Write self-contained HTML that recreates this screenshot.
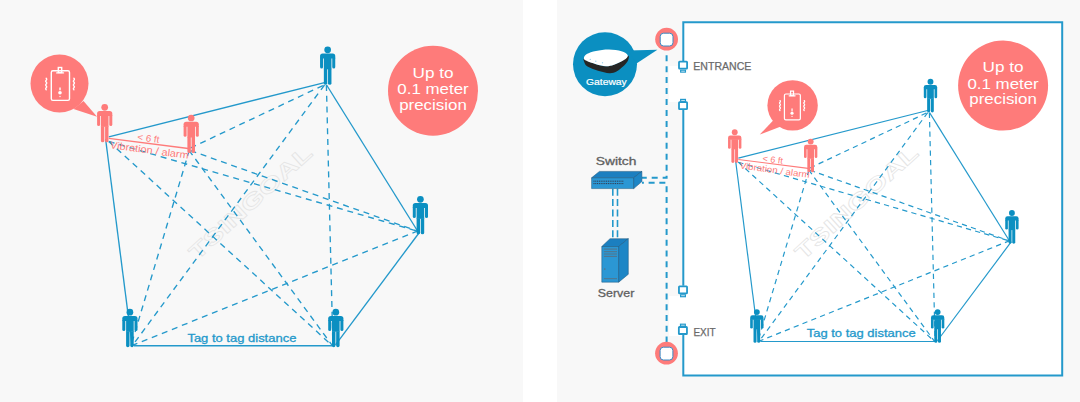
<!DOCTYPE html>
<html><head><meta charset="utf-8"><style>
html,body{margin:0;padding:0;background:#fff;width:1080px;height:402px;overflow:hidden}
svg{display:block}
</style></head><body>
<svg width="1080" height="402" viewBox="0 0 1080 402">
<rect x="0" y="0" width="523" height="402" fill="#f8f8f8"/>
<rect x="557" y="0" width="523" height="402" fill="#f8f8f8"/>
<text x="197" y="261" transform="rotate(-42.3 197 261)" font-family="Liberation Sans, sans-serif" font-size="21" font-weight="bold" fill="none" stroke="#e4e4e4" stroke-width="0.7" textLength="158" lengthAdjust="spacingAndGlyphs">TSINGOAL</text>
<line x1="108.8" y1="141.5" x2="418" y2="231.3" stroke="#2499cb" stroke-width="1.35" stroke-dasharray="6 4.8"/>
<line x1="108.8" y1="141.4" x2="332.3" y2="345.7" stroke="#2499cb" stroke-width="1.35" stroke-dasharray="6 4.8"/>
<line x1="190.5" y1="148" x2="325.7" y2="84.2" stroke="#2499cb" stroke-width="1.35" stroke-dasharray="6 4.8"/>
<line x1="190.5" y1="150.6" x2="418" y2="231.3" stroke="#2499cb" stroke-width="1.35" stroke-dasharray="6 4.8"/>
<line x1="189.3" y1="150.3" x2="131" y2="345.7" stroke="#2499cb" stroke-width="1.35" stroke-dasharray="6 4.8"/>
<line x1="189" y1="150.3" x2="332.4" y2="345.7" stroke="#2499cb" stroke-width="1.35" stroke-dasharray="6 4.8"/>
<line x1="324.5" y1="85" x2="132.3" y2="345.7" stroke="#2499cb" stroke-width="1.35" stroke-dasharray="6 4.8"/>
<line x1="326.4" y1="85" x2="332.9" y2="345.7" stroke="#2499cb" stroke-width="1.35" stroke-dasharray="6 4.8"/>
<line x1="418" y1="230.8" x2="132" y2="345.5" stroke="#2499cb" stroke-width="1.35" stroke-dasharray="6 4.8"/>
<line x1="108.8" y1="136.9" x2="325.5" y2="82.3" stroke="#2499cb" stroke-width="1.35"/>
<line x1="326.6" y1="85" x2="418.2" y2="232" stroke="#2499cb" stroke-width="1.35"/>
<line x1="419.7" y1="232" x2="335.5" y2="344.8" stroke="#2499cb" stroke-width="1.35"/>
<line x1="134" y1="345.7" x2="333" y2="345.7" stroke="#2499cb" stroke-width="1.35"/>
<line x1="105.6" y1="139" x2="132.1" y2="345.7" stroke="#2499cb" stroke-width="1.35"/>
<line x1="108.8" y1="138.4" x2="188.3" y2="148.5" stroke="#fe7b7a" stroke-width="1.35"/>
<g fill="#fe7b7a"><circle cx="104.70" cy="107.30" r="3.35"/><path d="M97.10,113.60 Q97.10,111.00 99.70,111.00 L109.70,111.00 Q112.30,111.00 112.30,113.60 L112.30,116.00 L97.10,116.00 Z"/><path d="M97.10,115.30 L100.10,115.30 L100.10,124.60 Q100.10,126.10 98.60,126.10 Q97.10,126.10 97.10,124.60 Z"/><path d="M109.30,115.30 L112.30,115.30 L112.30,124.60 Q112.30,126.10 110.80,126.10 Q109.30,126.10 109.30,124.60 Z"/><rect x="100.90" y="115.30" width="7.60" height="11.50"/><path d="M100.90,126.30 L104.32,126.30 L104.32,140.70 Q104.32,142.30 102.61,142.30 Q100.90,142.30 100.90,140.70 Z"/><path d="M105.08,126.30 L108.50,126.30 L108.50,140.70 Q108.50,142.30 106.79,142.30 Q105.08,142.30 105.08,140.70 Z"/></g>
<g fill="#fe7b7a"><circle cx="191.20" cy="118.00" r="3.35"/><path d="M183.60,124.30 Q183.60,121.70 186.20,121.70 L196.20,121.70 Q198.80,121.70 198.80,124.30 L198.80,126.70 L183.60,126.70 Z"/><path d="M183.60,126.00 L186.60,126.00 L186.60,135.30 Q186.60,136.80 185.10,136.80 Q183.60,136.80 183.60,135.30 Z"/><path d="M195.80,126.00 L198.80,126.00 L198.80,135.30 Q198.80,136.80 197.30,136.80 Q195.80,136.80 195.80,135.30 Z"/><rect x="187.40" y="126.00" width="7.60" height="11.50"/><path d="M187.40,137.00 L190.82,137.00 L190.82,151.40 Q190.82,153.00 189.11,153.00 Q187.40,153.00 187.40,151.40 Z"/><path d="M191.58,137.00 L195.00,137.00 L195.00,151.40 Q195.00,153.00 193.29,153.00 Q191.58,153.00 191.58,151.40 Z"/></g>
<g fill="#0b8fc1"><circle cx="327.65" cy="49.80" r="3.35"/><path d="M320.05,56.10 Q320.05,53.50 322.65,53.50 L332.65,53.50 Q335.25,53.50 335.25,56.10 L335.25,58.50 L320.05,58.50 Z"/><path d="M320.05,57.80 L323.05,57.80 L323.05,67.10 Q323.05,68.60 321.55,68.60 Q320.05,68.60 320.05,67.10 Z"/><path d="M332.25,57.80 L335.25,57.80 L335.25,67.10 Q335.25,68.60 333.75,68.60 Q332.25,68.60 332.25,67.10 Z"/><rect x="323.85" y="57.80" width="7.60" height="11.50"/><path d="M323.85,68.80 L327.27,68.80 L327.27,83.20 Q327.27,84.80 325.56,84.80 Q323.85,84.80 323.85,83.20 Z"/><path d="M328.03,68.80 L331.45,68.80 L331.45,83.20 Q331.45,84.80 329.74,84.80 Q328.03,84.80 328.03,83.20 Z"/></g>
<g fill="#0b8fc1"><circle cx="420.40" cy="199.30" r="3.35"/><path d="M412.80,205.60 Q412.80,203.00 415.40,203.00 L425.40,203.00 Q428.00,203.00 428.00,205.60 L428.00,208.00 L412.80,208.00 Z"/><path d="M412.80,207.30 L415.80,207.30 L415.80,216.60 Q415.80,218.10 414.30,218.10 Q412.80,218.10 412.80,216.60 Z"/><path d="M425.00,207.30 L428.00,207.30 L428.00,216.60 Q428.00,218.10 426.50,218.10 Q425.00,218.10 425.00,216.60 Z"/><rect x="416.60" y="207.30" width="7.60" height="11.50"/><path d="M416.60,218.30 L420.02,218.30 L420.02,232.70 Q420.02,234.30 418.31,234.30 Q416.60,234.30 416.60,232.70 Z"/><path d="M420.78,218.30 L424.20,218.30 L424.20,232.70 Q424.20,234.30 422.49,234.30 Q420.78,234.30 420.78,232.70 Z"/></g>
<g fill="#0b8fc1"><circle cx="129.90" cy="312.20" r="3.35"/><path d="M122.30,318.50 Q122.30,315.90 124.90,315.90 L134.90,315.90 Q137.50,315.90 137.50,318.50 L137.50,320.90 L122.30,320.90 Z"/><path d="M122.30,320.20 L125.30,320.20 L125.30,329.50 Q125.30,331.00 123.80,331.00 Q122.30,331.00 122.30,329.50 Z"/><path d="M134.50,320.20 L137.50,320.20 L137.50,329.50 Q137.50,331.00 136.00,331.00 Q134.50,331.00 134.50,329.50 Z"/><rect x="126.10" y="320.20" width="7.60" height="11.50"/><path d="M126.10,331.20 L129.52,331.20 L129.52,345.60 Q129.52,347.20 127.81,347.20 Q126.10,347.20 126.10,345.60 Z"/><path d="M130.28,331.20 L133.70,331.20 L133.70,345.60 Q133.70,347.20 131.99,347.20 Q130.28,347.20 130.28,345.60 Z"/></g>
<g fill="#0b8fc1"><circle cx="335.80" cy="312.20" r="3.35"/><path d="M328.20,318.50 Q328.20,315.90 330.80,315.90 L340.80,315.90 Q343.40,315.90 343.40,318.50 L343.40,320.90 L328.20,320.90 Z"/><path d="M328.20,320.20 L331.20,320.20 L331.20,329.50 Q331.20,331.00 329.70,331.00 Q328.20,331.00 328.20,329.50 Z"/><path d="M340.40,320.20 L343.40,320.20 L343.40,329.50 Q343.40,331.00 341.90,331.00 Q340.40,331.00 340.40,329.50 Z"/><rect x="332.00" y="320.20" width="7.60" height="11.50"/><path d="M332.00,331.20 L335.42,331.20 L335.42,345.60 Q335.42,347.20 333.71,347.20 Q332.00,347.20 332.00,345.60 Z"/><path d="M336.18,331.20 L339.60,331.20 L339.60,345.60 Q339.60,347.20 337.89,347.20 Q336.18,347.20 336.18,345.60 Z"/></g>
<text x="148" y="141.5" transform="rotate(7.7 148 141.5)" font-family="Liberation Sans, sans-serif" font-size="9.5" fill="#fe7b7a" text-anchor="middle" textLength="22" lengthAdjust="spacingAndGlyphs">&lt; 6 ft</text>
<text x="149" y="153.5" transform="rotate(7.7 149 153.5)" font-family="Liberation Sans, sans-serif" font-size="10" fill="#fe7b7a" text-anchor="middle" textLength="79" lengthAdjust="spacingAndGlyphs">Vibration / alarm</text>
<circle cx="59.5" cy="83.5" r="29" fill="#fe7b7a"/>
<path d="M83.50,101.00 L73.50,109.00 L97.10,116.70 Z" fill="#fe7b7a"/>
<g fill="none" stroke="#fff" stroke-width="1.40" stroke-linecap="round"><rect x="51.30" y="70.80" width="18.20" height="29.60" rx="1.60"/><rect x="58.30" y="67.50" width="3.40" height="5.00"/><line x1="56.70" y1="72.90" x2="63.50" y2="72.90"/><line x1="60.00" y1="87.90" x2="60.00" y2="89.80"/><line x1="60.00" y1="96.40" x2="60.00" y2="96.50"/><path d="M46.20,78.30 Q47.20,79.25 46.20,80.20 Q45.20,81.15 46.20,82.10 Q47.20,83.05 46.20,84.00 Q45.20,84.95 46.20,85.90 Q47.20,86.85 46.20,87.80 Q45.20,88.75 46.20,89.70"/><path d="M73.90,78.30 Q74.90,79.25 73.90,80.20 Q72.90,81.15 73.90,82.10 Q74.90,83.05 73.90,84.00 Q72.90,84.95 73.90,85.90 Q74.90,86.85 73.90,87.80 Q72.90,88.75 73.90,89.70"/></g>
<circle cx="60.00" cy="92.70" r="1.80" fill="#fff"/>
<circle cx="433" cy="90.8" r="45" fill="#fe7b7a"/><g fill="#fff" font-family="Liberation Sans, sans-serif" font-size="14.5" text-anchor="middle"><text x="433" y="77.5" textLength="41" lengthAdjust="spacingAndGlyphs">Up to</text><text x="433" y="93.7" textLength="71.3" lengthAdjust="spacingAndGlyphs">0.1 meter</text><text x="433" y="109.6" textLength="67.6" lengthAdjust="spacingAndGlyphs">precision</text></g>
<text x="187.4" y="341.7" font-family="Liberation Sans, sans-serif" font-size="11" fill="#2499cb" stroke="#2499cb" stroke-width="0.3" textLength="109" lengthAdjust="spacingAndGlyphs">Tag to tag distance</text>
<rect x="683.3" y="22.2" width="379" height="353.4" fill="#fff"/>
<rect x="669" y="66" width="15" height="36" fill="#fff"/><rect x="669" y="296" width="15" height="40" fill="#fff"/><path d="M683.3,61.3 L683.3,22.2 L1062.2,22.2 L1062.2,375.6 L683.3,375.6 L683.3,334.9" fill="none" stroke="#2499cb" stroke-width="2.0"/><line x1="683.3" y1="109.6" x2="683.3" y2="285.7" stroke="#2499cb" stroke-width="2.0"/><rect x="679.00" y="61.70" width="8.1" height="7.0" rx="0.6" fill="#fff" stroke="#2499cb" stroke-width="1.8"/><rect x="680.65" y="70.20" width="4.8" height="1.9" fill="#fff" stroke="#2499cb" stroke-width="1.2"/><rect x="680.65" y="99.40" width="4.8" height="1.9" fill="#fff" stroke="#2499cb" stroke-width="1.2"/><rect x="679.00" y="102.20" width="8.1" height="7.0" rx="0.6" fill="#fff" stroke="#2499cb" stroke-width="1.8"/><rect x="678.95" y="286.30" width="8.1" height="7.0" rx="0.6" fill="#fff" stroke="#2499cb" stroke-width="1.8"/><rect x="680.60" y="294.80" width="4.8" height="1.9" fill="#fff" stroke="#2499cb" stroke-width="1.2"/><rect x="680.50" y="324.20" width="4.8" height="1.9" fill="#fff" stroke="#2499cb" stroke-width="1.2"/><rect x="678.85" y="327.00" width="8.1" height="7.0" rx="0.6" fill="#fff" stroke="#2499cb" stroke-width="1.8"/><text x="693.3" y="70.1" font-family="Liberation Sans, sans-serif" font-size="10.5" fill="#6a6a6a" stroke="#6a6a6a" stroke-width="0.25" textLength="58" lengthAdjust="spacingAndGlyphs">ENTRANCE</text><text x="693.4" y="335.5" font-family="Liberation Sans, sans-serif" font-size="10.5" fill="#6a6a6a" stroke="#6a6a6a" stroke-width="0.25" textLength="22.2" lengthAdjust="spacingAndGlyphs">EXIT</text><path d="M666.6,50.8 L666.6,177.7 L642,177.7" fill="none" stroke="#2499cb" stroke-width="2" stroke-dasharray="6 4.95" stroke-dashoffset="6.55"/><path d="M642,182.7 L666.6,182.7 L666.6,342" fill="none" stroke="#2499cb" stroke-width="2" stroke-dasharray="6 4.73" stroke-dashoffset="4.12"/><path d="M612.8,188.7 L612.8,240 M617.5,188.7 L617.5,240" fill="none" stroke="#2499cb" stroke-width="1.6" stroke-dasharray="7 3.4"/><circle cx="666.6" cy="39.2" r="11.4" fill="#fe7b7a"/><rect x="660.20" y="33.20" width="12.8" height="12.8" rx="3.4" fill="#fff" stroke="#3a8cc6" stroke-width="1.0"/><circle cx="666.5" cy="353.2" r="11.4" fill="#fe7b7a"/><rect x="660.10" y="347.20" width="12.8" height="12.8" rx="3.4" fill="#fff" stroke="#3a8cc6" stroke-width="1.0"/><circle cx="605" cy="64.2" r="32" fill="#0b8fc1"/><path d="M628,50.5 L657.4,49.8 L636.5,63.5 Z" fill="#0b8fc1"/><path d="M583.90,58.60 C582.97,58.68 583.80,61.18 584.40,62.50 C585.00,63.82 585.23,65.12 587.50,66.50 C589.77,67.88 594.33,69.68 598.00,70.80 C601.67,71.92 606.42,73.08 609.50,73.20 C612.58,73.32 614.25,72.62 616.50,71.50 C618.75,70.38 621.12,68.25 623.00,66.50 C624.88,64.75 626.93,62.78 627.80,61.00 C628.67,59.22 629.50,55.63 628.20,55.80 C626.90,55.97 623.70,60.25 620.00,62.00 C616.30,63.75 611.00,66.30 606.00,66.30 C601.00,66.30 593.68,63.28 590.00,62.00 C586.32,60.72 584.83,58.52 583.90,58.60Z" fill="#262626"/><path d="M583.90,58.00 C584.03,56.90 584.78,55.17 586.80,54.00 C588.82,52.83 592.30,51.73 596.00,51.00 C599.70,50.27 604.75,49.55 609.00,49.60 C613.25,49.65 618.37,50.33 621.50,51.30 C624.63,52.27 627.38,53.95 627.80,55.40 C628.22,56.85 626.30,58.43 624.00,60.00 C621.70,61.57 617.00,63.75 614.00,64.80 C611.00,65.85 609.00,66.38 606.00,66.30 C603.00,66.22 599.33,65.25 596.00,64.30 C592.67,63.35 588.02,61.65 586.00,60.60 C583.98,59.55 583.77,59.10 583.90,58.00Z" fill="#fff"/><circle cx="590.3" cy="59.4" r="0.7" fill="#9fd3ef"/><circle cx="595.8" cy="61.3" r="0.7" fill="#9fd3ef"/><circle cx="602.5" cy="62.8" r="0.7" fill="#9fd3ef"/><text x="586" y="85.2" font-family="Liberation Sans, sans-serif" font-size="9.5" fill="#fff" stroke="#fff" stroke-width="0.2" textLength="40.8" lengthAdjust="spacingAndGlyphs">Gateway</text><text x="595.7" y="165.4" font-family="Liberation Sans, sans-serif" font-size="11.5" fill="#606060" stroke="#606060" stroke-width="0.3" textLength="40.7" lengthAdjust="spacingAndGlyphs">Switch</text><path d="M591.6,177.8 L599.4,171.4 L641.9,171.4 L633.7,177.8 Z" fill="#1b7fc0" stroke="#16527a" stroke-width="0.5"/><path d="M591.6,177.8 L633.7,177.8 L633.7,188.6 L591.6,188.6 Z" fill="#2b97d4" stroke="#16527a" stroke-width="0.5"/><path d="M633.7,177.8 L641.9,171.4 L641.9,181.6 L633.7,188.6 Z" fill="#1d86c6" stroke="#16527a" stroke-width="0.5"/><path d="M593.5,181.2 L624,181.2 M593.5,183.6 L624,183.6" stroke="#334" stroke-width="1" stroke-dasharray="1 0.8"/><path d="M601.8,246.5 L610,238.7 L628.3,238.7 L618.7,246.5 Z" fill="#1b7fc0" stroke="#16527a" stroke-width="0.5"/><path d="M601.8,246.5 L618.7,246.5 L618.7,282.2 L601.8,282.2 Z" fill="#2b97d4" stroke="#16527a" stroke-width="0.5"/><path d="M618.7,246.5 L628.3,238.7 L628.3,274.3 L618.7,282.2 Z" fill="#1d86c6" stroke="#16527a" stroke-width="0.5"/><path d="M603.9,249.1 H617 M603.9,251.7 H617 M603.9,254 H617 M603.9,256.4 H617 M603.9,278.7 H617" stroke="#5a6f80" stroke-width="0.9"/><circle cx="604.8" cy="269.1" r="0.8" fill="#5a6f80"/><text x="597.8" y="296.6" font-family="Liberation Sans, sans-serif" font-size="11.5" fill="#606060" stroke="#606060" stroke-width="0.3" textLength="36.5" lengthAdjust="spacingAndGlyphs">Server</text>
<text x="803" y="261" transform="rotate(-42.3 803 261)" font-family="Liberation Sans, sans-serif" font-size="21" font-weight="bold" fill="none" stroke="#e4e4e4" stroke-width="0.7" textLength="158" lengthAdjust="spacingAndGlyphs">TSINGOAL</text>
<g transform="translate(642.8 38.0) scale(0.878)"><line x1="108.8" y1="141.5" x2="418" y2="231.3" stroke="#2499cb" stroke-width="1.35" stroke-dasharray="6 4.8"/>
<line x1="108.8" y1="141.4" x2="332.3" y2="345.7" stroke="#2499cb" stroke-width="1.35" stroke-dasharray="6 4.8"/>
<line x1="190.5" y1="148" x2="325.7" y2="84.2" stroke="#2499cb" stroke-width="1.35" stroke-dasharray="6 4.8"/>
<line x1="190.5" y1="150.6" x2="418" y2="231.3" stroke="#2499cb" stroke-width="1.35" stroke-dasharray="6 4.8"/>
<line x1="189.3" y1="150.3" x2="131" y2="345.7" stroke="#2499cb" stroke-width="1.35" stroke-dasharray="6 4.8"/>
<line x1="189" y1="150.3" x2="332.4" y2="345.7" stroke="#2499cb" stroke-width="1.35" stroke-dasharray="6 4.8"/>
<line x1="324.5" y1="85" x2="132.3" y2="345.7" stroke="#2499cb" stroke-width="1.35" stroke-dasharray="6 4.8"/>
<line x1="326.4" y1="85" x2="332.9" y2="345.7" stroke="#2499cb" stroke-width="1.35" stroke-dasharray="6 4.8"/>
<line x1="418" y1="230.8" x2="132" y2="345.5" stroke="#2499cb" stroke-width="1.35" stroke-dasharray="6 4.8"/>
<line x1="108.8" y1="136.9" x2="325.5" y2="82.3" stroke="#2499cb" stroke-width="1.35"/>
<line x1="326.6" y1="85" x2="418.2" y2="232" stroke="#2499cb" stroke-width="1.35"/>
<line x1="419.7" y1="232" x2="335.5" y2="344.8" stroke="#2499cb" stroke-width="1.35"/>
<line x1="134" y1="345.7" x2="333" y2="345.7" stroke="#2499cb" stroke-width="1.35"/>
<line x1="105.6" y1="139" x2="132.1" y2="345.7" stroke="#2499cb" stroke-width="1.35"/>
<line x1="108.8" y1="138.4" x2="188.3" y2="148.5" stroke="#fe7b7a" stroke-width="1.35"/>
<g fill="#fe7b7a"><circle cx="104.70" cy="107.30" r="3.35"/><path d="M97.10,113.60 Q97.10,111.00 99.70,111.00 L109.70,111.00 Q112.30,111.00 112.30,113.60 L112.30,116.00 L97.10,116.00 Z"/><path d="M97.10,115.30 L100.10,115.30 L100.10,124.60 Q100.10,126.10 98.60,126.10 Q97.10,126.10 97.10,124.60 Z"/><path d="M109.30,115.30 L112.30,115.30 L112.30,124.60 Q112.30,126.10 110.80,126.10 Q109.30,126.10 109.30,124.60 Z"/><rect x="100.90" y="115.30" width="7.60" height="11.50"/><path d="M100.90,126.30 L104.32,126.30 L104.32,140.70 Q104.32,142.30 102.61,142.30 Q100.90,142.30 100.90,140.70 Z"/><path d="M105.08,126.30 L108.50,126.30 L108.50,140.70 Q108.50,142.30 106.79,142.30 Q105.08,142.30 105.08,140.70 Z"/></g>
<g fill="#fe7b7a"><circle cx="191.20" cy="118.00" r="3.35"/><path d="M183.60,124.30 Q183.60,121.70 186.20,121.70 L196.20,121.70 Q198.80,121.70 198.80,124.30 L198.80,126.70 L183.60,126.70 Z"/><path d="M183.60,126.00 L186.60,126.00 L186.60,135.30 Q186.60,136.80 185.10,136.80 Q183.60,136.80 183.60,135.30 Z"/><path d="M195.80,126.00 L198.80,126.00 L198.80,135.30 Q198.80,136.80 197.30,136.80 Q195.80,136.80 195.80,135.30 Z"/><rect x="187.40" y="126.00" width="7.60" height="11.50"/><path d="M187.40,137.00 L190.82,137.00 L190.82,151.40 Q190.82,153.00 189.11,153.00 Q187.40,153.00 187.40,151.40 Z"/><path d="M191.58,137.00 L195.00,137.00 L195.00,151.40 Q195.00,153.00 193.29,153.00 Q191.58,153.00 191.58,151.40 Z"/></g>
<g fill="#0b8fc1"><circle cx="327.65" cy="49.80" r="3.35"/><path d="M320.05,56.10 Q320.05,53.50 322.65,53.50 L332.65,53.50 Q335.25,53.50 335.25,56.10 L335.25,58.50 L320.05,58.50 Z"/><path d="M320.05,57.80 L323.05,57.80 L323.05,67.10 Q323.05,68.60 321.55,68.60 Q320.05,68.60 320.05,67.10 Z"/><path d="M332.25,57.80 L335.25,57.80 L335.25,67.10 Q335.25,68.60 333.75,68.60 Q332.25,68.60 332.25,67.10 Z"/><rect x="323.85" y="57.80" width="7.60" height="11.50"/><path d="M323.85,68.80 L327.27,68.80 L327.27,83.20 Q327.27,84.80 325.56,84.80 Q323.85,84.80 323.85,83.20 Z"/><path d="M328.03,68.80 L331.45,68.80 L331.45,83.20 Q331.45,84.80 329.74,84.80 Q328.03,84.80 328.03,83.20 Z"/></g>
<g fill="#0b8fc1"><circle cx="420.40" cy="199.30" r="3.35"/><path d="M412.80,205.60 Q412.80,203.00 415.40,203.00 L425.40,203.00 Q428.00,203.00 428.00,205.60 L428.00,208.00 L412.80,208.00 Z"/><path d="M412.80,207.30 L415.80,207.30 L415.80,216.60 Q415.80,218.10 414.30,218.10 Q412.80,218.10 412.80,216.60 Z"/><path d="M425.00,207.30 L428.00,207.30 L428.00,216.60 Q428.00,218.10 426.50,218.10 Q425.00,218.10 425.00,216.60 Z"/><rect x="416.60" y="207.30" width="7.60" height="11.50"/><path d="M416.60,218.30 L420.02,218.30 L420.02,232.70 Q420.02,234.30 418.31,234.30 Q416.60,234.30 416.60,232.70 Z"/><path d="M420.78,218.30 L424.20,218.30 L424.20,232.70 Q424.20,234.30 422.49,234.30 Q420.78,234.30 420.78,232.70 Z"/></g>
<g fill="#0b8fc1"><circle cx="129.90" cy="312.20" r="3.35"/><path d="M122.30,318.50 Q122.30,315.90 124.90,315.90 L134.90,315.90 Q137.50,315.90 137.50,318.50 L137.50,320.90 L122.30,320.90 Z"/><path d="M122.30,320.20 L125.30,320.20 L125.30,329.50 Q125.30,331.00 123.80,331.00 Q122.30,331.00 122.30,329.50 Z"/><path d="M134.50,320.20 L137.50,320.20 L137.50,329.50 Q137.50,331.00 136.00,331.00 Q134.50,331.00 134.50,329.50 Z"/><rect x="126.10" y="320.20" width="7.60" height="11.50"/><path d="M126.10,331.20 L129.52,331.20 L129.52,345.60 Q129.52,347.20 127.81,347.20 Q126.10,347.20 126.10,345.60 Z"/><path d="M130.28,331.20 L133.70,331.20 L133.70,345.60 Q133.70,347.20 131.99,347.20 Q130.28,347.20 130.28,345.60 Z"/></g>
<g fill="#0b8fc1"><circle cx="335.80" cy="312.20" r="3.35"/><path d="M328.20,318.50 Q328.20,315.90 330.80,315.90 L340.80,315.90 Q343.40,315.90 343.40,318.50 L343.40,320.90 L328.20,320.90 Z"/><path d="M328.20,320.20 L331.20,320.20 L331.20,329.50 Q331.20,331.00 329.70,331.00 Q328.20,331.00 328.20,329.50 Z"/><path d="M340.40,320.20 L343.40,320.20 L343.40,329.50 Q343.40,331.00 341.90,331.00 Q340.40,331.00 340.40,329.50 Z"/><rect x="332.00" y="320.20" width="7.60" height="11.50"/><path d="M332.00,331.20 L335.42,331.20 L335.42,345.60 Q335.42,347.20 333.71,347.20 Q332.00,347.20 332.00,345.60 Z"/><path d="M336.18,331.20 L339.60,331.20 L339.60,345.60 Q339.60,347.20 337.89,347.20 Q336.18,347.20 336.18,345.60 Z"/></g></g>
<text x="772.3" y="162.6" transform="rotate(7.7 772.3 162.6)" font-family="Liberation Sans, sans-serif" font-size="8.8" fill="#fe7b7a" text-anchor="middle" textLength="20.4" lengthAdjust="spacingAndGlyphs">&lt; 6 ft</text>
<text x="774.4" y="173.2" transform="rotate(7.7 774.4 173.2)" font-family="Liberation Sans, sans-serif" font-size="9.1" fill="#fe7b7a" text-anchor="middle" textLength="70.5" lengthAdjust="spacingAndGlyphs">Vibration / alarm</text>
<circle cx="792.6" cy="105.4" r="25.2" fill="#fe7b7a"/>
<path d="M774.50,118.90 L781.50,126.20 L759.80,134.60 Z" fill="#fe7b7a"/>
<g fill="none" stroke="#fff" stroke-width="1.22" stroke-linecap="round"><rect x="784.43" y="93.99" width="15.92" height="25.90" rx="1.40"/><rect x="790.55" y="91.10" width="2.98" height="4.38"/><line x1="789.15" y1="95.83" x2="795.10" y2="95.83"/><line x1="792.04" y1="108.95" x2="792.04" y2="110.61"/><line x1="792.04" y1="116.39" x2="792.04" y2="116.48"/><path d="M779.96,100.55 Q780.84,101.38 779.96,102.21 Q779.09,103.04 779.96,103.88 Q780.84,104.71 779.96,105.54 Q779.09,106.37 779.96,107.20 Q780.84,108.03 779.96,108.86 Q779.09,109.69 779.96,110.53"/><path d="M804.20,100.55 Q805.08,101.38 804.20,102.21 Q803.33,103.04 804.20,103.88 Q805.08,104.71 804.20,105.54 Q803.33,106.37 804.20,107.20 Q805.08,108.03 804.20,108.86 Q803.33,109.69 804.20,110.53"/></g>
<circle cx="792.04" cy="113.15" r="1.57" fill="#fff"/>
<circle cx="1003.1" cy="85.6" r="45" fill="#fe7b7a"/><g fill="#fff" font-family="Liberation Sans, sans-serif" font-size="14.5" text-anchor="middle"><text x="1003.1" y="72.3" textLength="41" lengthAdjust="spacingAndGlyphs">Up to</text><text x="1003.1" y="88.5" textLength="71.3" lengthAdjust="spacingAndGlyphs">0.1 meter</text><text x="1003.1" y="104.4" textLength="67.6" lengthAdjust="spacingAndGlyphs">precision</text></g>
<text x="806.7" y="337.2" font-family="Liberation Sans, sans-serif" font-size="11" fill="#2499cb" stroke="#2499cb" stroke-width="0.3" textLength="109" lengthAdjust="spacingAndGlyphs">Tag to tag distance</text>
</svg>
</body></html>
